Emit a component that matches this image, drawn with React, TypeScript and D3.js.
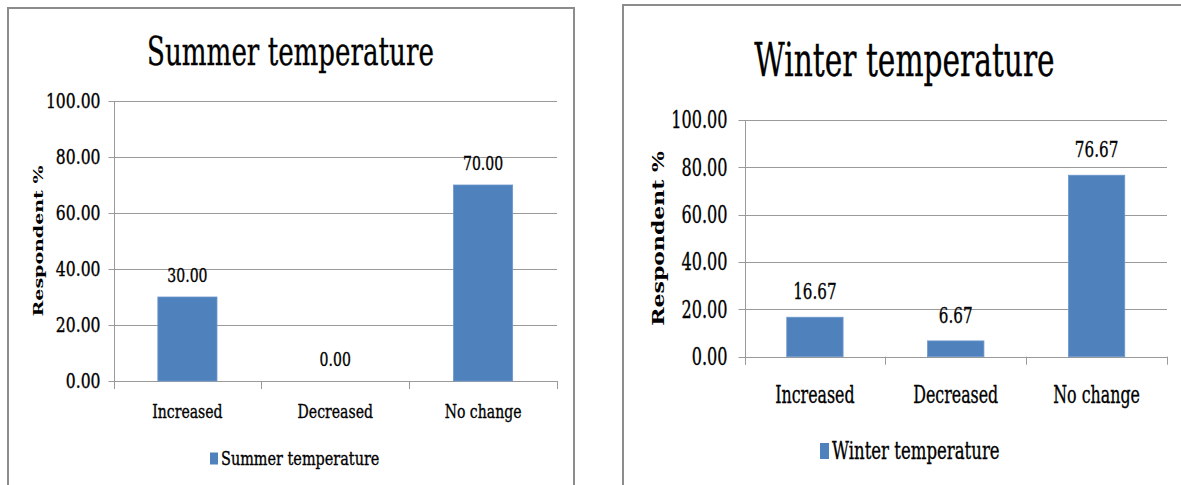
import React from "react";
import * as d3 from "d3";

// Survey responses: perceived change in temperature (percent of respondents)
const categories = ["Increased", "Decreased", "No change"];
const summerValues = [30.0, 0.0, 70.0];
const winterValues = [16.67, 6.67, 76.67];
const yTicks = [0, 20, 40, 60, 80, 100];
const summerTitle = "Summer temperature";
const winterTitle = "Winter temperature";
const yAxisTitle = "Respondent %";

const FONT = "'DejaVu Serif', serif";
const BAR = "#4f81bd";
const GRID = "#9a9a9a";
const FRAME = "#8c8c8c";

type Panel = {
  title: string;
  values: number[];
  frame: { x: number; y: number; w: number; h: number };
  plot: { left: number; right: number; top: number; bottom: number };
  sx: number;
  titleX: number;
  titleSx: number;
  titleSize: number;
  titleY: number;
  tickSize: number;
  tickSx: number;
  tickGap: number;
  catSize: number;
  catY: number;
  labelSize: number;
  labelGap: number;
  legendSize: number;
  legendSx: number;
  legendY: number;
  legendX: number;
  legendSwatch: { w: number; h: number };
  yTitleSize: number;
  yTitleX: number;
  yTitleSx: number;
  tickLen: number;
  catTickLen: number;
};

const panels: Panel[] = [
  {
    title: summerTitle,
    values: summerValues,
    frame: { x: 8, y: 8, w: 566, h: 520 },
    plot: { left: 113.5, right: 557, top: 101, bottom: 381 },
    sx: 0.74,
    titleX: 290.5,
    titleSx: 0.67,
    titleSize: 39,
    titleY: 64.5,
    tickSize: 20,
    tickSx: 0.78,
    tickGap: 8,
    catSize: 19,
    catY: 418,
    labelSize: 19,
    labelGap: 15,
    legendSize: 19,
    legendSx: 0.76,
    legendY: 464.5,
    legendX: 221,
    legendSwatch: { w: 8, h: 12 },
    yTitleSize: 19,
    yTitleX: 43,
    yTitleSx: 0.68,
    tickLen: 5,
    catTickLen: 8,
  },
  {
    title: winterTitle,
    values: winterValues,
    frame: { x: 623, y: 5, w: 620, h: 520 },
    plot: { left: 744.5, right: 1167, top: 120, bottom: 356.7 },
    sx: 0.66,
    titleX: 904.5,
    titleSx: 0.645,
    titleSize: 46,
    titleY: 76,
    tickSize: 24,
    tickSx: 0.67,
    tickGap: 11,
    catSize: 24,
    catY: 403,
    labelSize: 23,
    labelGap: 18,
    legendSize: 24,
    legendSx: 0.69,
    legendY: 459,
    legendX: 832,
    legendSwatch: { w: 9, h: 16 },
    yTitleSize: 22,
    yTitleX: 664,
    yTitleSx: 0.74,
    tickLen: 6,
    catTickLen: 8,
  },
];

// Text drawn in a horizontally condensed form.
function CText(props: {
  x: number;
  y: number;
  size: number;
  sx: number;
  anchor?: "start" | "middle" | "end";
  weight?: string | number;
  baseline?: string;
  rotate?: number;
  children: React.ReactNode;
}) {
  const { x, y, size, sx, anchor = "start", weight = "normal", baseline, rotate = 0 } = props;
  return (
    <g transform={`translate(${x},${y}) scale(${sx},1) rotate(${rotate})`}>
      <text
        textAnchor={anchor}
        fontFamily={FONT}
        fontSize={size}
        fontWeight={weight}
        dominantBaseline={baseline}
        fill="#000"
        stroke="#000"
        strokeWidth={weight === "bold" ? 0 : 0.35}
      >
        {props.children}
      </text>
    </g>
  );
}

function BarPanel({ p }: { p: Panel }) {
  const x = d3
    .scaleBand<string>()
    .domain(categories)
    .range([p.plot.left, p.plot.right])
    .paddingInner(0)
    .paddingOuter(0);
  const bar = d3
    .scaleBand<string>()
    .domain(categories)
    .range([p.plot.left, p.plot.right])
    .paddingInner(0.6)
    .paddingOuter(0.3);
  const y = d3.scaleLinear().domain([0, 100]).range([p.plot.bottom, p.plot.top]);
  const fmt = d3.format(".2f");
  const boundaries = categories.map((c) => x(c)!).concat([p.plot.right]);
  const plotMidY = (p.plot.top + p.plot.bottom) / 2;

  return (
    <g>
      <rect
        x={p.frame.x}
        y={p.frame.y}
        width={p.frame.w}
        height={p.frame.h}
        fill="#fff"
        stroke={FRAME}
        strokeWidth={2}
      />
      {/* title */}
      <CText x={p.titleX} y={p.titleY} size={p.titleSize} sx={p.titleSx} anchor="middle">
        {p.title}
      </CText>

      {/* gridlines and y ticks */}
      {yTicks.map((t) => (
        <g key={t}>
          <line
            x1={p.plot.left - p.tickLen}
            x2={p.plot.right}
            y1={Math.round(y(t)) + 0.5}
            y2={Math.round(y(t)) + 0.5}
            stroke={GRID}
            strokeWidth={1}
          />
          <CText
            x={p.plot.left - p.tickLen - p.tickGap}
            y={y(t)}
            size={p.tickSize}
            sx={p.tickSx}
            anchor="end"
            baseline="central"
          >
            {fmt(t)}
          </CText>
        </g>
      ))}

      {/* y axis line */}
      <line
        x1={Math.round(p.plot.left) + 0.5}
        x2={Math.round(p.plot.left) + 0.5}
        y1={p.plot.top}
        y2={p.plot.bottom + p.catTickLen}
        stroke={GRID}
      />
      {/* category ticks */}
      {boundaries.map((b, i) => (
        <line
          key={i}
          x1={Math.round(b) + 0.5}
          x2={Math.round(b) + 0.5}
          y1={p.plot.bottom}
          y2={p.plot.bottom + p.catTickLen}
          stroke={GRID}
        />
      ))}

      {/* bars */}
      {categories.map((c, i) => (
        <rect
          key={c}
          x={bar(c)!}
          width={bar.bandwidth()}
          y={y(p.values[i])}
          height={p.plot.bottom - y(p.values[i])}
          fill={BAR}
          stroke="#6e97cc"
          strokeWidth={p.values[i] > 0 ? 0.8 : 0}
        />
      ))}

      {/* value labels */}
      {categories.map((c, i) => (
        <CText
          key={c}
          x={x(c)! + x.bandwidth() / 2}
          y={y(p.values[i]) - p.labelGap}
          size={p.labelSize}
          sx={p.sx}
          anchor="middle"
        >
          {fmt(p.values[i])}
        </CText>
      ))}

      {/* category labels */}
      {categories.map((c) => (
        <CText
          key={c}
          x={x(c)! + x.bandwidth() / 2}
          y={p.catY}
          size={p.catSize}
          sx={p.sx}
          anchor="middle"
        >
          {c}
        </CText>
      ))}

      {/* y axis title */}
      <CText
        x={p.yTitleX}
        y={plotMidY}
        size={p.yTitleSize}
        sx={p.yTitleSx}
        anchor="middle"
        weight="bold"
        rotate={-90}
      >
        {yAxisTitle}
      </CText>

      {/* legend */}
      <rect
        x={p.legendX - p.legendSwatch.w - 3}
        y={p.legendY - p.legendSwatch.h}
        width={p.legendSwatch.w}
        height={p.legendSwatch.h}
        fill={BAR}
      />
      <CText x={p.legendX} y={p.legendY} size={p.legendSize} sx={p.legendSx}>
        {p.title}
      </CText>
    </g>
  );
}

export default function App() {
  return (
    <svg
      width={1181}
      height={485}
      style={{ position: "absolute", left: 0, top: 0, background: "#fff" }}
    >
      <rect width={1181} height={485} fill="#fff" />
      {panels.map((p) => (
        <BarPanel key={p.title} p={p} />
      ))}
    </svg>
  );
}
